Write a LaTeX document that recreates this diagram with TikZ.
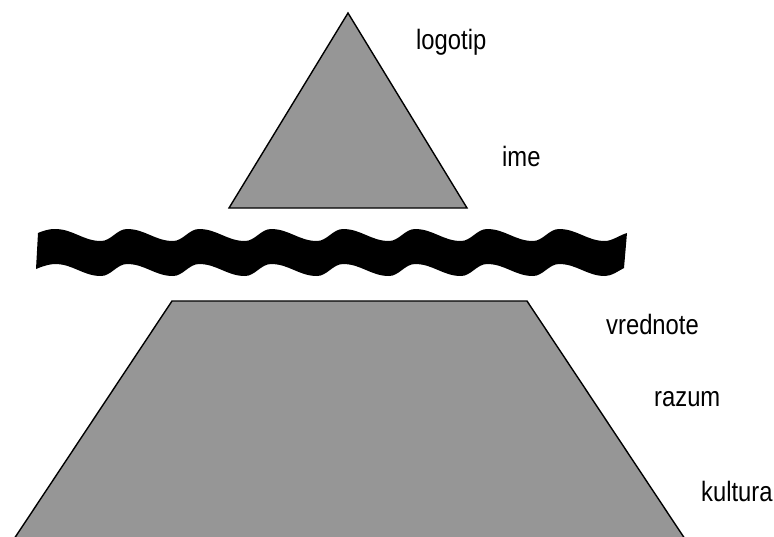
\documentclass[tikz,border=0pt]{standalone}
\usepackage{fontspec}
\setmainfont{Liberation Sans}
\definecolor{shapegray}{RGB}{150,150,150}
\newcommand{\narrowtxt}[1]{\scalebox{0.85}[1]{#1}}
\begin{document}
\begin{tikzpicture}[x=1pt,y=-1pt,
  shapefill/.style={fill=shapegray,draw=black,line width=1.4pt,line join=miter},
  lbl/.style={anchor=base west,inner sep=0pt,font=\fontsize{28}{32}\selectfont}]
\useasboundingbox (0,0) rectangle (774,536);
% triangle
\filldraw[shapefill] (348,13) -- (467,208) -- (229,208) -- cycle;
% trapezoid
\begin{scope}
\clip (0,0) rectangle (774,536);
\filldraw[shapefill] (172,301) -- (527,301) -- (685,539) -- (14,539) -- cycle;
\end{scope}
% wave band
\fill[black] (38,233) .. controls (45,230) and (50,229) .. (55,229)
  \foreach \c in {55,127,...,487} {
    .. controls ({\c+18},229) and ({\c+28},241) .. ({\c+46},241)
    .. controls ({\c+56},241) and ({\c+62},229) .. ({\c+72},229)
  }
  .. controls (577,229) and (587,241) .. (605,241)
  .. controls (612,241) and (620,235) .. (627,233)
  -- (624,268)
  .. controls (618,271) and (612,276) .. (605,276)
  .. controls (587,276) and (577,264) .. (559,264)
  \foreach \c in {487,415,...,55} {
    .. controls ({\c+62},264) and ({\c+56},276) .. ({\c+46},276)
    .. controls ({\c+28},276) and ({\c+18},264) .. (\c,264)
  }
  .. controls (50,264) and (43,266) .. (36,269) -- cycle;
% labels
\node[lbl] (logotip) at (416,49) {\narrowtxt{logotip}};
\node[lbl] (ime) at (502,166) {\narrowtxt{ime}};
\node[lbl] (vrednote) at (606,334) {\narrowtxt{vrednote}};
\node[lbl] (razum) at (654,406) {\narrowtxt{razum}};
\node[lbl] (kultura) at (701,501) {\narrowtxt{kultura}};
\end{tikzpicture}
\end{document}
